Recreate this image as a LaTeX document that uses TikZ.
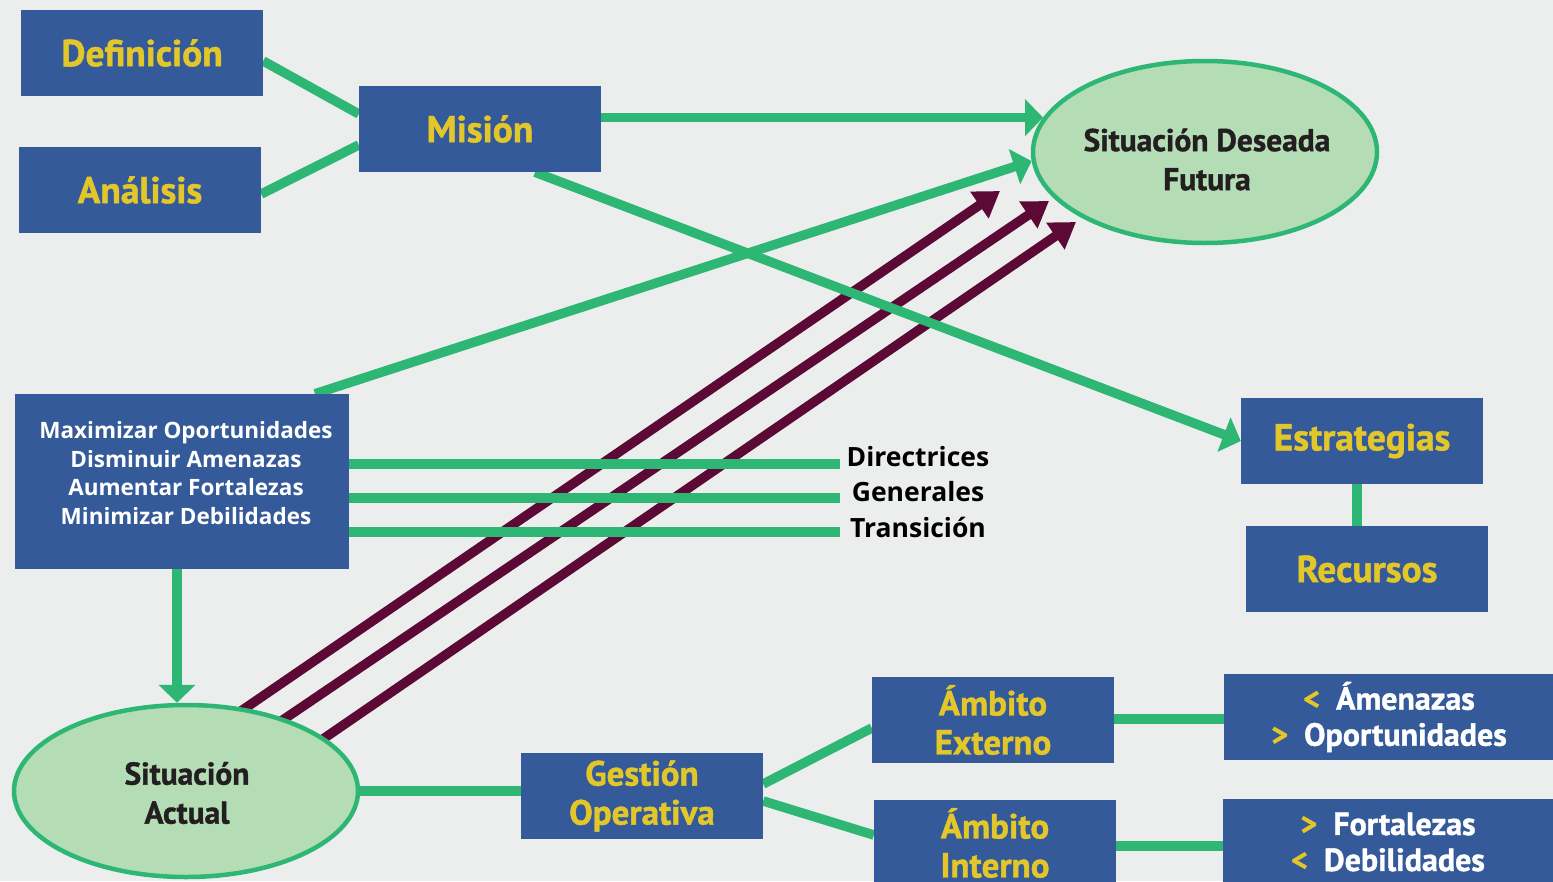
\documentclass[tikz,border=0pt]{standalone}
\usepackage{fontspec}
\setmainfont{Open Sans}
\newfontfamily\condfont[FakeBold=1.2]{PT Sans}
\usetikzlibrary{arrows.meta,shapes.geometric}

\definecolor{bgcol}{HTML}{ECEEED}
\definecolor{boxblue}{HTML}{345A99}
\definecolor{goldtxt}{HTML}{E3C72A}
\definecolor{linegreen}{HTML}{2DB674}
\definecolor{ellfill}{HTML}{B5DDB5}
\definecolor{wine}{HTML}{5C0A35}
\definecolor{ink}{HTML}{231F20}

\pgfdeclarelayer{back}
\pgfdeclarelayer{links}
\pgfsetlayers{back,links,main}

\tikzset{
  bluebox/.style={fill=boxblue, draw=none, inner sep=0pt,
    minimum width=242pt, minimum height=86pt, align=center},
  goldlabel/.style={text=goldtxt, font=\condfont\bfseries\fontsize{37.5}{42}\selectfont},
  goldpair/.style={text=goldtxt, font=\condfont\bfseries\fontsize{35}{39}\selectfont},
  whitepair/.style={text=white, font=\condfont\bfseries\fontsize{32}{36}\selectfont},
  situation/.style={ellipse, fill=ellfill, draw=linegreen, line width=4.5pt,
    inner sep=0pt, align=center, text=ink},
  sittext/.style={text=ink, align=center,
    font=\condfont\bfseries\fontsize{31.5}{39}\selectfont},
  greenlink/.style={draw=linegreen, line width=9.5pt},
  greenarrow/.style={greenlink, -{Triangle[length=18pt,width=36pt]}},
  winearrow/.style={draw=wine, line width=9.5pt, -{Triangle[length=25pt,width=31pt]}},
  guide/.style={text=black, font=\bfseries\fontsize{26.5}{30}\selectfont, anchor=base},
}

\begin{document}
\begin{tikzpicture}[x=1pt,y=-1pt]
\begin{pgfonlayer}{back}
  \fill[bgcol] (0,0) rectangle (1553,881);
\end{pgfonlayer}
\useasboundingbox (0,0) rectangle (1553,881);

% ---- boxes and ellipses ----
\node[bluebox, goldlabel] (def) at (142,53) {Definición};
\node[bluebox, goldlabel] (ana) at (140,190) {Análisis};
\node[bluebox, goldlabel] (mis) at (480,129) {Misión};
\node[situation, minimum width=344pt, minimum height=182pt] (fut) at (1205,152) {};
\node[sittext] (futtxt) at (1207,159.5) {Situación Deseada\\Futura};
\node[bluebox, goldlabel] (est) at (1362,441) {Estrategias};
\node[bluebox, goldlabel] (rec) at (1367,569) {Recursos};

\node[bluebox, minimum width=334pt, minimum height=175pt] (obj) at (182,481.5) {};
\node[text=white, align=center, font=\bfseries\fontsize{22.5}{28.7}\selectfont]
  (objtxt) at (186,473)
  {Maximizar Oportunidades\\Disminuir Amenazas\\Aumentar Fortalezas\\Minimizar Debilidades};

\node[guide] (dir) at (918,466) {Directrices};
\node[guide] (gen) at (918,501) {Generales};
\node[guide] (tra) at (918,537) {Transición};
\coordinate (d1) at (840,464);
\coordinate (d2) at (840,498);
\coordinate (d3) at (840,532);

\node[situation, minimum width=344pt, minimum height=172pt] (act) at (186,791) {};
\node[sittext] (acttxt) at (187,793) {Situación\\Actual};

\node[bluebox, goldpair] (ges) at (642,796) {Gestión\\Operativa};
\node[bluebox, goldpair] (ext) at (993,720) {Ámbito\\Externo};
\node[bluebox, minimum height=90pt] (int) at (995,845) {};
\node[goldpair, align=center] (inttxt) at (995,843) {Ámbito\\Interno};
\node[bluebox, whitepair, minimum width=330pt] (amo) at (1389,717)
  {{\color{goldtxt}<}\enspace Ámenazas\\{\color{goldtxt}>}\enspace Oportunidades};
\node[bluebox, whitepair, minimum width=330pt] (fod) at (1388,842)
  {{\color{goldtxt}>}\enspace Fortalezas\\{\color{goldtxt}<}\enspace Debilidades};

% ---- connectors ----
\begin{pgfonlayer}{links}
  % transition arrows from the current to the desired situation
  \coordinate (w1s) at (225,722);
  \coordinate (w2s) at (268,730);
  \coordinate (w3s) at (307,750);
  \coordinate (w1e) at (1000,191);
  \coordinate (w2e) at (1049,201);
  \coordinate (w3e) at (1076,222);
  \draw[winearrow] (w1s) -- (w1e);
  \draw[winearrow] (w2s) -- (w2e);
  \draw[winearrow] (w3s) -- (w3e);

  \draw[greenlink] ([yshift=-8pt]def.east) -- ([yshift=15pt]mis.west);
  \draw[greenlink] ([yshift=-4pt]ana.east) -- ([yshift=-16pt]mis.west);
  \draw[greenarrow] (mis.east |- fut.168) -- (fut.168);
  \draw[greenarrow] ([xshift=55pt]mis.south) -- (est.west);
  \draw[greenarrow] ([xshift=133pt]obj.north) -- (fut.183);

  \draw[greenlink] (obj.east |- d1) -- (d1);
  \draw[greenlink] (obj.east |- d2) -- (d2);
  \draw[greenlink] (obj.east |- d3) -- (d3);
  \draw[greenarrow] ([xshift=-5pt]obj.south) -- ([xshift=-5pt]obj.south |- act.north);

  \draw[greenlink] (act.east) -- (act.east -| ges.west);
  \draw[greenlink] ([yshift=12pt]ges.east) -- ([yshift=-8pt]ext.west);
  \draw[greenlink] ([yshift=-5pt]ges.east) -- ([yshift=10pt]int.west);
  \draw[greenlink] ([yshift=1pt]ext.east) -- ([yshift=1pt]ext.east -| amo.west);
  \draw[greenlink] ([yshift=-1pt]int.east) -- ([yshift=-1pt]int.east -| fod.west);
  \draw[greenlink] ([xshift=-5pt]est.south) -- ([xshift=-5pt]est.south |- rec.north);
\end{pgfonlayer}
\end{tikzpicture}
\end{document}
